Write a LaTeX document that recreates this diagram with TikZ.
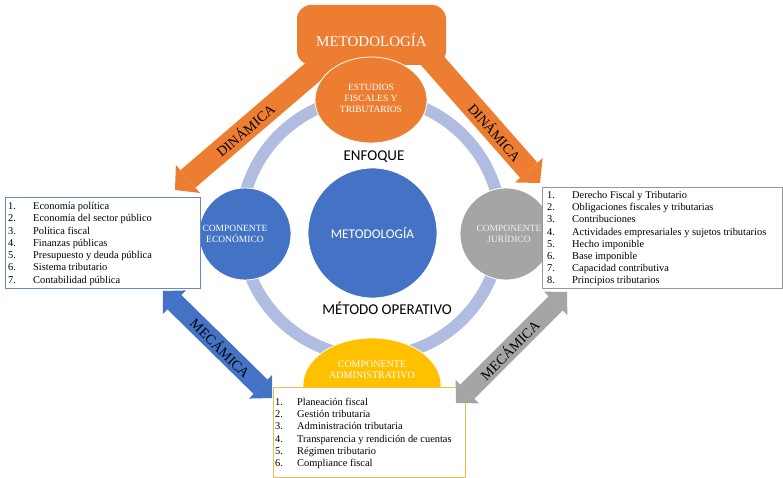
\documentclass[tikz,border=0pt]{standalone}
\usepackage{fontspec}
\setmainfont{Liberation Serif}
\newfontfamily\calibfont{Carlito}
\usetikzlibrary{arrows.meta,shapes.geometric}
\definecolor{corange}{RGB}{237,125,49}
\definecolor{cblue}{RGB}{68,114,196}
\definecolor{cgray}{RGB}{165,165,165}
\definecolor{cyellow}{RGB}{255,192,0}
\definecolor{cring}{RGB}{176,189,224}
\definecolor{cgold}{RGB}{236,190,70}
\definecolor{cboxblue}{RGB}{100,135,205}
\definecolor{cboxgray}{RGB}{150,150,150}
\begin{document}
\begin{tikzpicture}[x=1pt,y=-1pt,
  comp/.style={ellipse, draw=white, line width=0.8pt, inner sep=0pt},
  comptext/.style={text=white, align=center, inner sep=0pt, font=\fontsize{9.5}{10.6}\selectfont},
  listbox/.style={rectangle, fill=white, line width=0.8pt, inner sep=0pt, anchor=north west},
  item/.style={anchor=base west, inner sep=0pt, font=\fontsize{10.4}{11}\selectfont},
  bigarrow/.style={line width=23pt, -{Triangle[length=17pt,width=37pt,line width=0pt]}},
  dblarrow/.style={line width=20pt, {Triangle[length=16pt,width=33pt,line width=0pt]}-{Triangle[length=16pt,width=33pt,line width=0pt]}},
  arrowlabel/.style={sloped, text=black, inner sep=0pt, font=\fontsize{14}{14}\selectfont},
  sanslabel/.style={inner sep=0pt, font=\calibfont\fontsize{15}{15}\selectfont}
]
\useasboundingbox (0,0) rectangle (783,478);

% ring
\node[circle, draw=cring, line width=12pt, minimum size=260pt, inner sep=0pt] (ring) at (371,227) {};

% component circles
\node[comp, fill=cblue, minimum width=92pt, minimum height=92pt] (econ) at (245,234) {};
\node[comp, fill=cgray, minimum width=92pt, minimum height=92pt] (jur) at (506,234) {};
\node[comp, fill=cyellow, minimum width=138pt, minimum height=94pt] (admin) at (372,385) {};
\node[comp, fill=cblue, minimum width=129pt, minimum height=130pt, text=white,
      font=\calibfont\fontsize{13.3}{13.3}\selectfont] (centro) at (372.5,233) {METODOLOGÍA};

\node[comptext] (econtxt) at (235,234) {COMPONENTE\\ECONÓMICO};
\node[comptext, text=white!88!gray] (jurtxt) at (509,234) {COMPONENTE\\JURÍDICO};
\node[comptext, font=\fontsize{10}{10.6}\selectfont] (admintxt) at (372,370) {COMPONENTE\\ADMINISTRATIVO};

\node[sanslabel] (enfoque) at (374,157) {ENFOQUE};
\node[sanslabel] (metop) at (387,308) {MÉTODO OPERATIVO};

% list boxes
\node[listbox, draw=cboxblue, minimum width=195pt, minimum height=91pt] (econlist) at (5,197) {};
\node[listbox, draw=cboxgray, minimum width=240pt, minimum height=101pt] (jurlist) at (542,187) {};
\node[listbox, draw=cgold, minimum width=192pt, minimum height=90pt] (adminlist) at (273,387) {};

\foreach \t [count=\i] in {Economía política, Economía del sector público, Política fiscal, Finanzas públicas, Presupuesto y deuda pública, Sistema tributario, Contabilidad pública}
  \node[item] (econitem\i) at (8,{209.5+(\i-1)*12.25}) {\makebox[25pt][l]{\i.}\t};

\foreach \t [count=\i] in {Derecho Fiscal y Tributario, Obligaciones fiscales y tributarias, Contribuciones, Actividades empresariales y sujetos tributarios, Hecho imponible, Base imponible, Capacidad contributiva, Principios tributarios}
  \node[item] (juritem\i) at (547,{198.5+(\i-1)*12.2}) {\makebox[25pt][l]{\i.}\t};

\foreach \t [count=\i] in {Planeación fiscal, Gestión tributaria, Administración tributaria, Transparencia y rendición de cuentas, Régimen tributario, Compliance fiscal}
  \node[item] (adminitem\i) at (275,{405.5+(\i-1)*12.2}) {\makebox[22pt][l]{\i.}\t};

% orange arrows (DINÁMICA)
\coordinate (dl0) at (350,40);
\coordinate (dl1) at (175,190);
\coordinate (dr0) at (408,33);
\coordinate (dr1) at (540,183);
\draw[bigarrow, corange] (dl0) -- node[arrowlabel, pos=0.6] (dinl) {DINÁMICA} (dl1);
\draw[bigarrow, corange] (dr0) -- node[arrowlabel, pos=0.66] (dinr) {DINÁMICA} (dr1);

% top box
\node[fill=corange, rounded corners=14pt, minimum width=149pt, minimum height=60pt, inner sep=0pt] (metodbox) at (371.5,35) {};
\node[text=white, inner sep=0pt, font=\fontsize{15}{15}\selectfont] (metodtitle) at (371.5,40) {METODOLOGÍA};

% estudios circle
\node[comp, fill=corange, minimum width=112pt, minimum height=86pt] (estudios) at (371,100) {};
\node[comptext] (estudiostxt) at (371,98.5) {ESTUDIOS\\FISCALES Y\\TRIBUTARIOS};

% double arrows (MECÁMICA)
\coordinate (ml0) at (163,291);
\coordinate (ml1) at (272,398);
\coordinate (mr0) at (567,292);
\coordinate (mr1) at (456,403);
\draw[dblarrow, cblue] (ml0) -- node[arrowlabel, pos=0.53] (mecl) {MECÁMICA} (ml1);
\draw[dblarrow, cgray] (mr0) -- node[arrowlabel, pos=0.52] (mecr) {MECÁMICA} (mr1);
\end{tikzpicture}
\end{document}
